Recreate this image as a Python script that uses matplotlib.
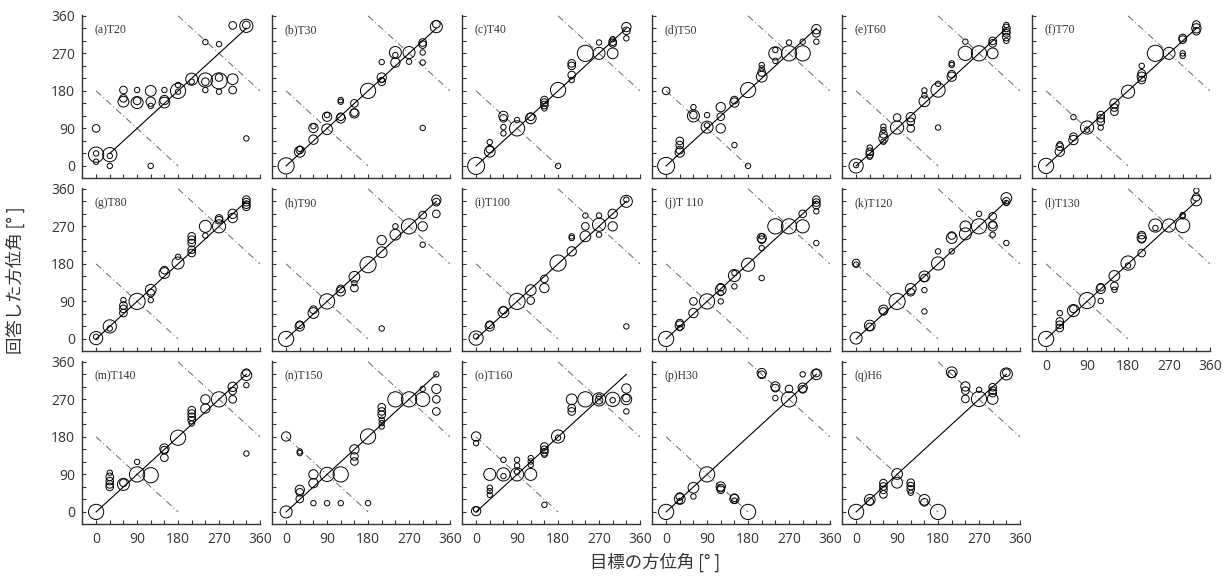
import numpy as np
import matplotlib.pyplot as plt

plt.rcParams['font.family'] = ['Noto Sans CJK JP', 'DejaVu Sans']

# (target azimuth, answered azimuth, number of answers)
pts_a = [(0, 90, 2), (0, 27, 8), (0, 30, 1), (0, 10, 1),
         (30, 27, 7), (30, 24, 1), (30, 0, 1),
         (60, 182, 2), (60, 162, 2), (60, 154, 4),
         (90, 182, 1), (90, 152, 5), (90, 156, 2),
         (120, 180, 4), (120, 154, 3), (120, 144, 1), (120, 0, 1),
         (150, 182, 1), (150, 158, 3), (150, 152, 4),
         (180, 180, 8), (180, 194, 1), (180, 178, 1),
         (210, 208, 5), (210, 202, 1),
         (240, 206, 7), (240, 202, 2), (240, 182, 1), (240, 297, 1),
         (270, 204, 9), (270, 212, 2), (270, 178, 1), (270, 292, 1),
         (300, 208, 4), (300, 182, 2), (300, 337, 2),
         (330, 336, 6), (330, 338, 2), (330, 66, 1)]
pts_b = [(0, 0, 9),
         (30, 34, 4), (30, 38, 2), (30, 41, 1),
         (60, 63, 3), (60, 91, 3), (60, 95, 1),
         (90, 88, 4), (90, 118, 3), (90, 122, 1),
         (120, 114, 3), (120, 118, 2), (120, 154, 1), (120, 158, 1),
         (150, 150, 2), (150, 126, 3), (150, 128, 2),
         (180, 180, 8),
         (210, 212, 3), (210, 202, 2), (210, 206, 1), (210, 249, 1),
         (240, 272, 5), (240, 248, 3), (240, 266, 1),
         (270, 272, 5), (270, 250, 1),
         (300, 296, 2), (300, 291, 2), (300, 272, 1), (300, 248, 1), (300, 91, 1),
         (330, 334, 5), (330, 340, 2)]
pts_c = [(0, 0, 10),
         (30, 34, 4), (30, 40, 2), (30, 57, 1),
         (60, 120, 3), (60, 114, 2), (60, 93, 1), (60, 78, 1),
         (90, 90, 8), (90, 110, 1),
         (120, 114, 4), (120, 118, 2),
         (150, 158, 2), (150, 152, 2), (150, 146, 2), (150, 138, 1),
         (180, 182, 8), (180, 0, 1),
         (210, 246, 2), (210, 240, 2), (210, 218, 2), (210, 206, 1),
         (240, 270, 9),
         (270, 270, 5), (270, 296, 1),
         (300, 270, 4), (300, 298, 2), (300, 294, 2), (300, 304, 1),
         (330, 333, 3), (330, 324, 2), (330, 306, 1)]
pts_d = [(0, 0, 10), (0, 180, 2),
         (30, 60, 2), (30, 50, 2), (30, 32, 3), (30, 38, 2),
         (60, 120, 5), (60, 141, 1), (60, 122, 2),
         (90, 93, 5), (90, 122, 1), (90, 97, 1),
         (120, 141, 3), (120, 118, 2), (120, 90, 3),
         (150, 152, 3), (150, 158, 2), (150, 50, 1),
         (180, 182, 8), (180, 0, 1),
         (210, 214, 4), (210, 242, 1), (210, 234, 1), (210, 224, 2),
         (240, 270, 6), (240, 252, 1), (240, 278, 1),
         (270, 270, 8), (270, 296, 1),
         (300, 270, 8), (300, 298, 1),
         (330, 328, 3), (330, 318, 2), (330, 298, 1)]
pts_e = [(0, 0, 7), (0, 2, 1),
         (30, 28, 2), (30, 34, 2), (30, 44, 1), (30, 22, 1),
         (60, 66, 3), (60, 76, 2), (60, 86, 1), (60, 94, 1), (60, 58, 1),
         (90, 92, 6), (90, 116, 2),
         (120, 117, 3), (120, 106, 2), (120, 90, 2),
         (150, 155, 4), (150, 169, 1), (150, 181, 1),
         (180, 182, 7), (180, 197, 1), (180, 92, 1),
         (210, 214, 3), (210, 220, 2), (210, 242, 1), (210, 246, 1),
         (240, 270, 7), (240, 298, 1),
         (270, 270, 8),
         (300, 270, 4), (300, 300, 2), (300, 294, 2),
         (330, 331, 2), (330, 323, 2), (330, 318, 2), (330, 309, 2), (330, 300, 1),
         (330, 338, 1)]
pts_f = [(0, 0, 8),
         (30, 34, 3), (30, 46, 2), (30, 52, 1),
         (60, 62, 3), (60, 70, 2), (60, 117, 1),
         (90, 92, 6), (90, 87, 1),
         (120, 122, 2), (120, 114, 2), (120, 106, 2), (120, 92, 1),
         (150, 150, 3), (150, 130, 2), (150, 140, 2),
         (180, 178, 6),
         (210, 214, 3), (210, 206, 2), (210, 222, 2), (210, 240, 1),
         (240, 270, 9),
         (270, 270, 5),
         (300, 303, 2), (300, 307, 2), (300, 270, 1), (300, 264, 1),
         (330, 330, 3), (330, 339, 2), (330, 323, 2)]
pts_g = [(0, 2, 6), (0, 5, 1),
         (30, 30, 6), (30, 25, 1),
         (60, 93, 1), (60, 80, 2), (60, 72, 2), (60, 62, 2),
         (90, 90, 9),
         (120, 118, 4), (120, 110, 2), (120, 93, 1),
         (150, 158, 4), (150, 165, 2),
         (180, 182, 5), (180, 197, 1),
         (210, 246, 2), (210, 238, 2), (210, 230, 2), (210, 214, 2), (210, 206, 2),
         (240, 270, 5), (240, 248, 1),
         (270, 270, 6), (270, 289, 2), (270, 285, 2),
         (300, 300, 3), (300, 290, 3),
         (330, 334, 2), (330, 328, 2), (330, 322, 2), (330, 317, 2)]
pts_h = [(0, 0, 8),
         (30, 30, 3), (30, 34, 2),
         (60, 62, 4), (60, 70, 2),
         (90, 90, 8),
         (120, 114, 3), (120, 120, 2),
         (150, 149, 4), (150, 134, 1), (150, 122, 2),
         (180, 178, 9),
         (210, 208, 4), (210, 237, 3), (210, 25, 1),
         (240, 250, 4), (240, 270, 1),
         (270, 270, 8),
         (300, 270, 3), (300, 297, 2), (300, 226, 1),
         (330, 334, 3), (330, 300, 2), (330, 328, 2)]
pts_i = [(0, 2, 7), (0, 6, 1),
         (30, 30, 3), (30, 34, 2),
         (60, 64, 4), (60, 69, 2),
         (90, 90, 9),
         (120, 117, 4), (120, 92, 2),
         (150, 144, 2), (150, 122, 3),
         (180, 182, 9),
         (210, 210, 3), (210, 246, 1), (210, 242, 1),
         (240, 246, 4), (240, 270, 2), (240, 296, 1),
         (270, 274, 6), (270, 250, 1), (270, 296, 1),
         (300, 300, 3), (300, 270, 3),
         (330, 330, 5), (330, 334, 1), (330, 30, 1)]
pts_j = [(0, 0, 8),
         (30, 32, 3), (30, 38, 2), (30, 26, 1),
         (60, 62, 3), (60, 90, 2),
         (90, 90, 8),
         (120, 118, 4), (120, 124, 2), (120, 90, 1), (120, 110, 1),
         (150, 152, 5), (150, 158, 1), (150, 126, 1),
         (180, 178, 6),
         (210, 242, 3), (210, 238, 2), (210, 218, 1), (210, 146, 1), (210, 246, 1),
         (240, 270, 8),
         (270, 270, 8),
         (300, 270, 6), (300, 300, 2),
         (330, 334, 2), (330, 327, 2), (330, 321, 2), (330, 306, 1), (330, 230, 1)]
pts_k = [(0, 2, 5), (0, 182, 2), (0, 178, 1),
         (30, 32, 4), (30, 29, 2),
         (60, 70, 3), (60, 66, 2),
         (90, 90, 9),
         (120, 120, 4), (120, 112, 2),
         (150, 150, 4), (150, 146, 2), (150, 117, 1), (150, 66, 1),
         (180, 181, 6), (180, 210, 1),
         (210, 242, 4), (210, 248, 2), (210, 210, 1),
         (240, 252, 5), (240, 270, 4),
         (270, 270, 8), (270, 300, 1),
         (300, 294, 2), (300, 270, 3), (300, 274, 2), (300, 250, 1),
         (330, 338, 4), (330, 330, 2), (330, 326, 1), (330, 230, 1)]
pts_l = [(0, 0, 8),
         (30, 34, 2), (30, 26, 2), (30, 42, 2), (30, 62, 1),
         (60, 68, 5), (60, 72, 2),
         (90, 92, 9),
         (120, 120, 3), (120, 124, 2), (120, 91, 1),
         (150, 151, 4), (150, 127, 2), (150, 118, 1),
         (180, 182, 7), (180, 176, 1),
         (210, 243, 3), (210, 249, 2), (210, 239, 2), (210, 206, 2),
         (240, 272, 6), (240, 266, 1),
         (270, 272, 6),
         (300, 272, 7), (300, 294, 1), (300, 297, 1),
         (330, 332, 4), (330, 340, 2), (330, 356, 1)]
pts_m = [(0, 0, 8),
         (30, 94, 1), (30, 84, 2), (30, 74, 2), (30, 66, 2), (30, 60, 2),
         (60, 66, 5), (60, 70, 2),
         (90, 90, 8), (90, 120, 1),
         (120, 88, 8),
         (150, 152, 3), (150, 148, 2), (150, 130, 2),
         (180, 178, 8),
         (210, 244, 2), (210, 236, 2), (210, 228, 2), (210, 220, 2), (210, 212, 1),
         (240, 270, 3), (240, 248, 3),
         (270, 270, 8),
         (300, 300, 3), (300, 290, 2), (300, 270, 2),
         (330, 328, 4), (330, 334, 2), (330, 304, 1), (330, 140, 1)]
pts_n = [(0, 0, 5), (0, 181, 3),
         (30, 53, 3), (30, 47, 2), (30, 31, 2), (30, 141, 1), (30, 145, 1),
         (60, 69, 3), (60, 90, 3), (60, 21, 1),
         (90, 90, 7), (90, 21, 1),
         (120, 90, 8), (120, 21, 1),
         (150, 150, 3), (150, 133, 2), (150, 121, 2),
         (180, 181, 8), (180, 21, 1),
         (210, 251, 2), (210, 241, 2), (210, 233, 2), (210, 221, 1), (210, 213, 1),
         (210, 205, 1),
         (240, 270, 8),
         (270, 270, 8),
         (300, 270, 7), (300, 295, 1),
         (330, 295, 3), (330, 270, 2), (330, 241, 2), (330, 330, 1)]
pts_o = [(0, 2, 3), (0, 6, 1), (0, 181, 3), (0, 165, 1),
         (30, 90, 5), (30, 58, 1), (30, 50, 1), (30, 41, 1),
         (60, 90, 6), (60, 125, 1), (60, 86, 1),
         (90, 90, 6), (90, 125, 1), (90, 111, 1), (90, 96, 1),
         (120, 90, 5), (120, 129, 1), (120, 121, 1), (120, 113, 1),
         (150, 157, 2), (150, 149, 2), (150, 143, 2), (150, 137, 1), (150, 17, 1),
         (180, 181, 6), (180, 178, 1),
         (210, 270, 4), (210, 249, 2), (210, 241, 2),
         (240, 270, 8),
         (270, 270, 6), (270, 276, 1), (270, 268, 2),
         (300, 270, 7), (300, 268, 1),
         (330, 270, 4), (330, 296, 3), (330, 241, 1), (330, 273, 2)]
pts_p = [(0, 0, 8),
         (30, 31, 4), (30, 37, 2), (30, 26, 1),
         (60, 58, 4), (60, 37, 1),
         (90, 90, 8),
         (120, 61, 3), (120, 57, 2), (120, 53, 2),
         (150, 31, 3), (150, 34, 2), (150, 27, 1),
         (180, 0, 8),
         (210, 333, 3), (210, 329, 2),
         (240, 301, 3), (240, 297, 2), (240, 273, 1),
         (270, 270, 8), (270, 295, 2),
         (300, 298, 3), (300, 294, 2), (300, 330, 1),
         (330, 330, 4), (330, 333, 2)]
pts_q = [(0, 0, 8),
         (30, 29, 4), (30, 25, 2),
         (60, 69, 2), (60, 61, 2), (60, 53, 2), (60, 42, 2),
         (90, 91, 4), (90, 70, 4),
         (120, 70, 2), (120, 62, 2), (120, 54, 2), (120, 46, 1),
         (150, 29, 4), (150, 23, 2),
         (180, 0, 8),
         (210, 335, 4), (210, 331, 2),
         (240, 301, 3), (240, 291, 2), (240, 271, 2),
         (270, 271, 8), (270, 293, 1),
         (300, 271, 4), (300, 299, 2), (300, 291, 2), (300, 285, 2),
         (330, 331, 5), (330, 334, 2)]

titles = ['(a)T20', '(b)T30', '(c)T40', '(d)T50', '(e)T60', '(f)T70',
          '(g)T80', '(h)T90', '(i)T100', '(j)T 110', '(k)T120', '(l)T130',
          '(m)T140', '(n)T150', '(o)T160', '(p)H30', '(q)H6']
all_pts = [pts_a, pts_b, pts_c, pts_d, pts_e, pts_f, pts_g, pts_h, pts_i,
           pts_j, pts_k, pts_l, pts_m, pts_n, pts_o, pts_p, pts_q]
diag_start = [30] + [0] * 16

W, H = 1231, 576
fig = plt.figure(figsize=(W / 100, H / 100), dpi=100)

ticks = list(range(0, 361, 30))
ticklabels = [str(t) if t % 90 == 0 else '' for t in ticks]

for i, (title, pts) in enumerate(zip(titles, all_pts)):
    row, col = divmod(i, 6)
    left = 82 + 190 * col
    top = 15 + 173 * row
    ax = fig.add_axes([left / W, 1 - (top + 163) / H, 178 / W, 163 / H])

    x = np.array([p[0] for p in pts])
    y = np.array([p[1] for p in pts])
    n = np.array([p[2] for p in pts])
    ax.scatter(x, y, s=15 * n, facecolors='none', edgecolors='black',
               linewidths=0.7, zorder=3)

    # y = x reference line and the two mirror lines
    ax.plot([diag_start[i], 330], [diag_start[i], 330], color='black', lw=0.8, zorder=2)
    ax.plot([0, 180], [180, 0], color='#666666', lw=0.7, ls=(0, (7, 3, 1, 3)), zorder=1)
    ax.plot([180, 360], [360, 180], color='#666666', lw=0.7, ls=(0, (7, 3, 1, 3)), zorder=1)

    ax.text(-3, 326, title, family='Liberation Serif', fontsize=8.5,
            color='#333333', ha='left', va='center')

    ax.set_xlim(-31, 360)
    ax.set_ylim(-29, 362)
    for s in ['top', 'right']:
        ax.spines[s].set_visible(False)
    for s in ['left', 'bottom']:
        ax.spines[s].set_color('#333333')
        ax.spines[s].set_linewidth(1.0)

    ax.set_xticks(ticks)
    ax.set_yticks(ticks)
    ax.tick_params(direction='in', length=3, width=0.8, color='#333333',
                   labelsize=10, labelcolor='#333333')
    ax.tick_params(axis='y', pad=5)
    ax.tick_params(axis='x', pad=6)

    if col == 0:
        ax.set_yticklabels(ticklabels, family='Open Sans')
    else:
        ax.set_yticklabels([])
    if row == 2 or (row == 1 and col == 5):
        ax.set_xticklabels(ticklabels, family='Open Sans')
    else:
        ax.set_xticklabels([])

fig.text(15 / W, 1 - 280 / H, '回答した方位角 [° ]', rotation=90, fontsize=12.5,
         ha='center', va='center', color='#333333')
fig.text(655 / W, 1 - 562 / H, '目標の方位角 [° ]', fontsize=12.5,
         ha='center', va='center', color='#333333')

fig.savefig('out.png', dpi=100)
